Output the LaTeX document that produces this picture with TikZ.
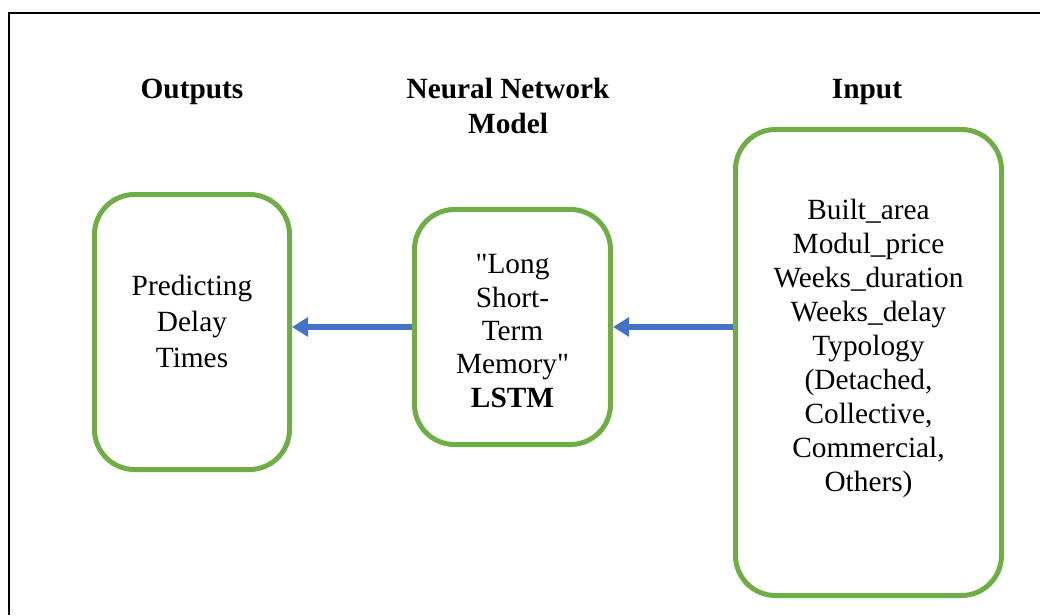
\documentclass[tikz,border=0pt]{standalone}
\usepackage{fontspec}
\setmainfont{Liberation Serif}
\usetikzlibrary{arrows.meta,positioning}

\begin{document}
\begin{tikzpicture}[
    x=0.75pt, y=-0.75pt,
    every node/.style={font=\fontsize{22}{26}\selectfont},
    heading/.style={font=\fontsize{22}{26}\selectfont\bfseries, align=center},
    boxtext/.style={align=center},
    block/.style={rectangle, rounded corners=30pt, draw={rgb,255:red,112;green,173;blue,71}, line width=3.75pt},
    flow/.style={draw={rgb,255:red,68;green,114;blue,196}, line width=4.5pt, -{Triangle[length=12pt,width=14pt]}}
]
\useasboundingbox (0,0) rectangle (1040,615);

% Frame
\draw[line width=1.5pt] (9,615) -- (9,13) -- (1040,13);

% Headings
\node [heading] (outhead) at (192,92) {Outputs};
\node [heading] (modelhead) at (508,106) {Neural Network\\Model};
\node [heading] (inhead) at (867,92) {Input};

% Boxes
\node [block, minimum width=195*0.75pt, minimum height=275*0.75pt] (out) at (192,332) {};
\node [block, minimum width=196*0.75pt, minimum height=235*0.75pt] (model) at (512.5,327) {};
\node [block, minimum width=266*0.75pt, minimum height=466*0.75pt] (in) at (868.5,362.5) {};

% Box texts
\node [boxtext, font=\fontsize{22}{27}\selectfont] (outtext) at (192,321)
    {Predicting\\Delay\\Times};
\node [boxtext, font=\fontsize{22}{25}\selectfont] (modeltext) at (512.5,331)
    {\textquotedbl Long\\Short-\\Term\\Memory\textquotedbl\\\textbf{LSTM}};
\node [boxtext, font=\fontsize{22}{25.5}\selectfont] (intext) at (868.5,348.5)
    {Built\_area\\Modul\_price\\Weeks\_duration\\Weeks\_delay\\Typology\\(Detached,\\Collective,\\Commercial,\\Others)};

% Connectors
\draw [flow] (in.west |- model.center) -- (model.east);
\draw [flow] (model.west) -- (out.east |- model.center);

\end{tikzpicture}
\end{document}
